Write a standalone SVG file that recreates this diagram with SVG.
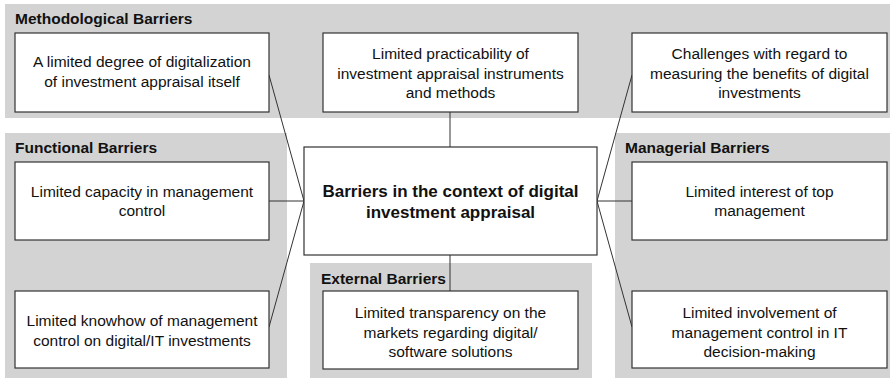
<svg xmlns="http://www.w3.org/2000/svg" width="893" height="380" viewBox="0 0 893 380">
<style>
.panel{fill:#d3d3d3;stroke:none}
.box{fill:#fff;stroke:#333;stroke-width:1.2}
.t{font-family:"Liberation Sans",Arial,sans-serif;font-size:15.5px;fill:#111;text-anchor:middle}
.h{font-family:"Liberation Sans",Arial,sans-serif;font-size:15.5px;font-weight:bold;fill:#111}
.c{font-family:"Liberation Sans",Arial,sans-serif;font-size:17px;font-weight:bold;fill:#111;text-anchor:middle}
.ln{stroke:#333;stroke-width:1;fill:none}
</style>
<rect width="893" height="380" fill="#fff"/>
<g id="panels">
<rect class="panel" x="5" y="4" width="885" height="114"/>
<rect class="panel" x="5" y="133" width="282" height="245"/>
<rect class="panel" x="615" y="133" width="275" height="245"/>
<rect class="panel" x="310" y="263" width="282" height="115"/>
<text class="h" x="15" y="24">Methodological Barriers</text>
<text class="h" x="15" y="153">Functional Barriers</text>
<text class="h" x="625" y="153">Managerial Barriers</text>
<text class="h" x="321" y="284">External Barriers</text>
</g>
<g id="connectors">
<line class="ln" x1="269" y1="75" x2="304" y2="201"/>
<line class="ln" x1="269" y1="201" x2="304" y2="201"/>
<line class="ln" x1="269" y1="327" x2="304" y2="201"/>
<line class="ln" x1="450" y1="112" x2="450" y2="147"/>
<line class="ln" x1="450" y1="255" x2="450" y2="291"/>
<line class="ln" x1="597" y1="201" x2="632" y2="75"/>
<line class="ln" x1="597" y1="201" x2="632" y2="201"/>
<line class="ln" x1="597" y1="201" x2="632" y2="327"/>
</g>
<g id="center">
<rect class="box" x="304" y="147" width="293" height="108"/>
<text class="c" x="450.5" y="197">Barriers in the context of digital</text>
<text class="c" x="450.5" y="218">investment appraisal</text>
</g>
<g id="m1">
<rect class="box" x="15" y="33" width="254" height="79"/>
<text class="t" x="142" y="67">A limited degree of digitalization</text>
<text class="t" x="142" y="87">of investment appraisal itself</text>
</g>
<g id="m2">
<rect class="box" x="323" y="33" width="255" height="79"/>
<text class="t" x="450.5" y="59">Limited practicability of</text>
<text class="t" x="450.5" y="78.5">investment appraisal instruments</text>
<text class="t" x="450.5" y="98">and methods</text>
</g>
<g id="m3">
<rect class="box" x="632" y="33" width="255" height="79"/>
<text class="t" x="759.5" y="59">Challenges with regard to</text>
<text class="t" x="759.5" y="78.5">measuring the benefits of digital</text>
<text class="t" x="759.5" y="98">investments</text>
</g>
<g id="f1">
<rect class="box" x="15" y="162" width="254" height="78"/>
<text class="t" x="142" y="197">Limited capacity in management</text>
<text class="t" x="142" y="216">control</text>
</g>
<g id="f2">
<rect class="box" x="15" y="291" width="254" height="77"/>
<text class="t" x="142" y="326">Limited knowhow of management</text>
<text class="t" x="142" y="346">control on digital/IT investments</text>
</g>
<g id="g1">
<rect class="box" x="632" y="162" width="255" height="78"/>
<text class="t" x="759.5" y="197">Limited interest of top</text>
<text class="t" x="759.5" y="216">management</text>
</g>
<g id="g2">
<rect class="box" x="632" y="291" width="255" height="77"/>
<text class="t" x="759.5" y="318">Limited involvement of</text>
<text class="t" x="759.5" y="337.5">management control in IT</text>
<text class="t" x="759.5" y="357">decision-making</text>
</g>
<g id="e1">
<rect class="box" x="323" y="291" width="255" height="78"/>
<text class="t" x="450.5" y="318">Limited transparency on the</text>
<text class="t" x="450.5" y="337.5">markets regarding digital/</text>
<text class="t" x="450.5" y="357">software solutions</text>
</g>
</svg>
